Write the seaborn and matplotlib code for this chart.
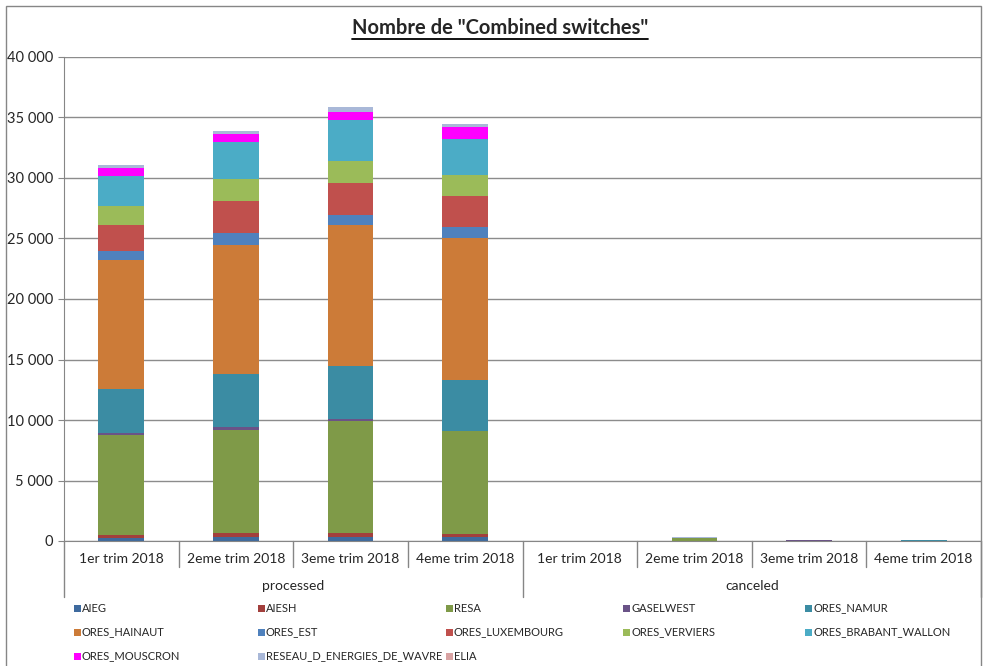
import matplotlib
matplotlib.use("Agg")
import matplotlib.pyplot as plt
import matplotlib.transforms as mtransforms
from matplotlib.patches import Rectangle
from matplotlib.ticker import FuncFormatter
import numpy as np
import seaborn as sns

# categories (two level axis)
quarters = ["1er trim 2018", "2eme trim 2018", "3eme trim 2018", "4eme trim 2018"]
groups = ["processed", "canceled"]

# series values: 4 processed quarters then 4 canceled quarters
AIEG = [270, 300, 360, 300, 0, 0, 0, 0]
AIESH = [220, 360, 300, 300, 0, 0, 0, 0]
RESA = [8270, 8510, 9280, 8470, 0, 250, 0, 0]
GASELWEST = [150, 230, 140, 30, 0, 0, 60, 0]
ORES_NAMUR = [3690, 4430, 4410, 4180, 0, 0, 0, 50]
ORES_HAINAUT = [10660, 10630, 11650, 11790, 0, 0, 0, 0]
ORES_EST = [710, 970, 780, 910, 0, 0, 0, 0]
ORES_LUXEMBOURG = [2130, 2690, 2690, 2530, 0, 0, 0, 0]
ORES_VERVIERS = [1570, 1800, 1790, 1710, 0, 0, 0, 0]
ORES_BRABANT_WALLON = [2480, 3080, 3390, 3000, 0, 0, 0, 0]
ORES_MOUSCRON = [680, 660, 690, 1020, 0, 0, 0, 0]
RESEAU_D_ENERGIES_DE_WAVRE = [220, 220, 360, 220, 0, 60, 0, 0]
ELIA = [0, 0, 0, 0, 0, 0, 0, 0]

series = {
    "AIEG": AIEG,
    "AIESH": AIESH,
    "RESA": RESA,
    "GASELWEST": GASELWEST,
    "ORES_NAMUR": ORES_NAMUR,
    "ORES_HAINAUT": ORES_HAINAUT,
    "ORES_EST": ORES_EST,
    "ORES_LUXEMBOURG": ORES_LUXEMBOURG,
    "ORES_VERVIERS": ORES_VERVIERS,
    "ORES_BRABANT_WALLON": ORES_BRABANT_WALLON,
    "ORES_MOUSCRON": ORES_MOUSCRON,
    "RESEAU_D_ENERGIES_DE_WAVRE": RESEAU_D_ENERGIES_DE_WAVRE,
    "ELIA": ELIA,
}
colors = ["#3E6A9E", "#A23F3C", "#7F9A48", "#6A5387", "#3B8CA3", "#CC7B38",
          "#4F81BD", "#C0504D", "#9BBB59", "#4BACC6", "#FF00FF", "#A9B8D8",
          "#D9A3A3"]

sns.set_style("white")
plt.rcParams["font.family"] = ["Lato", "DejaVu Sans"]

fig = plt.figure(figsize=(9.84, 6.66), dpi=100)
ax = fig.add_axes([64 / 984, 125 / 666, (981 - 64) / 984, 484 / 666])

xcats = [f"{g}|{q}" for g in groups for q in quarters]

bottom = np.zeros(len(xcats))
for (name, vals), col in zip(series.items(), colors):
    sns.barplot(x=xcats, y=vals, bottom=bottom, color=col, width=0.4,
                saturation=1, order=xcats, ax=ax, edgecolor="none", linewidth=0)
    bottom = bottom + np.array(vals, dtype=float)

ax.set_ylim(0, 40000)
ax.set_xlim(-0.5, 7.5)
ax.set_yticks(np.arange(0, 40001, 5000))
ax.yaxis.set_major_formatter(FuncFormatter(lambda v, p: f"{int(v):,}".replace(",", " ")))
ax.tick_params(axis="y", length=4, color="#868686", labelsize=10.5, pad=4, left=True)
ax.set_xticks([])
ax.set_xlabel("")
ax.set_ylabel("")
ax.grid(axis="y", color="#8c8c8c", linewidth=1)
ax.set_axisbelow(True)
for s in ["top", "right"]:
    ax.spines[s].set_visible(False)
ax.spines["left"].set_color("#868686")
ax.spines["bottom"].set_color("#868686")

# two level category axis
trans = mtransforms.blended_transform_factory(ax.transData, ax.transAxes)
px = 1 / 484
for i, lab in enumerate(quarters * 2):
    ax.text(i, -18 * px, lab, transform=trans, ha="center", va="center", fontsize=10)
for j, g in enumerate(groups):
    ax.text(1.5 + 4 * j, -45 * px, g, transform=trans, ha="center", va="center", fontsize=10)
for b in np.arange(-0.5, 8, 1.0):
    depth = 56 if b in (-0.5, 3.5, 7.5) else 26
    ax.plot([b, b], [0, -depth * px], transform=trans, color="#868686",
            linewidth=1, clip_on=False)

# title, centred on the chart area and underlined
title = fig.text(500 / 984, (666 - 28) / 666, 'Nombre de "Combined switches"',
                 fontsize=14.5, fontweight="bold", ha="center", va="center")
fig.canvas.draw()
bb = title.get_window_extent()
fig.add_artist(plt.Line2D([bb.x0 / 984, bb.x1 / 984], [(bb.y0 - 1) / 666] * 2,
                          color="black", linewidth=1.3))

# legend laid out like the Excel one
xs = [77, 261, 449, 626, 808]
ys = [608, 632, 656]
for k, (name, col) in enumerate(zip(series.keys(), colors)):
    r, c = divmod(k, 5)
    fig.add_artist(Rectangle(((xs[c] - 3.5) / 984, (666 - ys[r] - 3.5) / 666), 7 / 984, 7 / 666,
                             facecolor=col, edgecolor="none"))
    fig.text((xs[c] + 5) / 984, (666 - ys[r]) / 666, name, fontsize=8,
             ha="left", va="center")

# chart border
fig.add_artist(Rectangle((6 / 984, -0.01), (981 - 6) / 984, (666 - 6) / 666 + 0.01,
                         fill=False, edgecolor="#868686", linewidth=1))

fig.savefig("out.png", dpi=100)
